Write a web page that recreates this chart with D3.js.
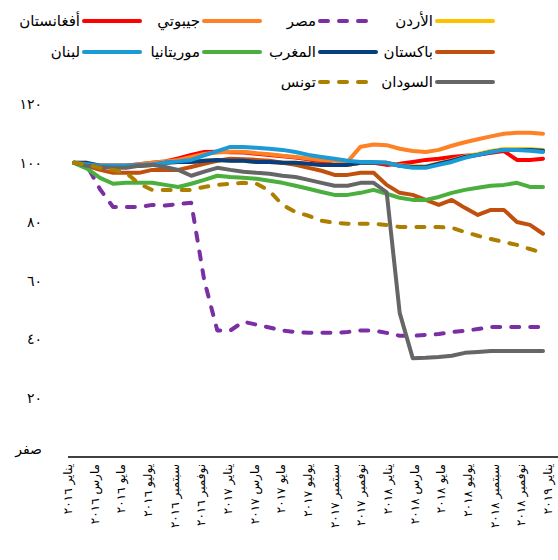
<!DOCTYPE html>
<html><head><meta charset="utf-8">
<script src="https://cdn.jsdelivr.net/npm/d3@7/dist/d3.min.js"></script>
<style>
html,body{margin:0;padding:0;background:#fff;}
svg{display:block;font-family:"DejaVu Sans",sans-serif;}
</style></head>
<body><svg id="chart" width="558" height="560"></svg>
<script>
const xMonths = ["يناير","مارس","مايو","يوليو","سبتمبر","نوفمبر",
 "يناير","مارس","مايو","يوليو","سبتمبر","نوفمبر",
 "يناير","مارس","مايو","يوليو","سبتمبر","نوفمبر","يناير"];
const xYears = ["٢٠١٦","٢٠١٦","٢٠١٦","٢٠١٦","٢٠١٦","٢٠١٦",
 "٢٠١٧","٢٠١٧","٢٠١٧","٢٠١٧","٢٠١٧","٢٠١٧",
 "٢٠١٨","٢٠١٨","٢٠١٨","٢٠١٨","٢٠١٨","٢٠١٨","٢٠١٩"];
const yTicks = [0,20,40,60,80,100,120];
const yTickLabels = ["صفر","٢٠","٤٠","٦٠","٨٠","١٠٠","١٢٠"];

const jordan =      [100,100,99,99,99,99,99.3,100,100.3,100.3,100.7,101,100.7,100.7,100.3,100.3,100,100,99.7,99.3,99.3,99.3,100,100,100,99.2,98.8,98.8,99.9,100.9,102.2,103,104,104.7,104.7,104.7,104.4];
const egypt =       [100,99,91,85,85,85,85.7,85.5,86,86.4,60,43,43,46,45,44,43,42.5,42.2,42.2,42.2,42.5,43,43,42.2,41.2,41.2,41.5,41.8,42.5,42.9,43.5,44.2,44.2,44.2,44.2,44.2];
const djibouti =    [100,99.5,99,99,99,99.5,100,100.5,101,102,103,103.5,103.8,103.8,103.3,102.9,102.4,102,101.5,101,100.7,100.4,105.5,106.2,106,104.8,104,103.7,104.4,105.8,107,108,109,109.9,110.2,110.2,109.9];
const afghanistan = [100,99.5,99,99,99,99.5,100,100.5,101.5,102.7,103.7,103.8,103.6,103.5,103.1,102.7,102.2,101.8,101.2,100.3,99.3,99.3,100,100,99.3,99.7,100.3,101,101.4,102,102.4,102.7,103.4,104,101,101,101.4];
const pakistan =    [100,99,97.6,96.6,96.6,96.6,97.6,97.6,97.6,98.6,99.7,100.7,101.4,101.2,101,100.7,100,99.3,98.3,97.3,95.9,95.9,96.6,96.6,92.5,89.8,89.1,87.4,85.7,87.4,84.7,82.3,84,84,79.9,78.9,75.9];
const morocco =     [100,100,99,99,99,99,99.3,100,100.3,100.3,100.7,101,100.7,100.7,100.3,100.3,100,100,99.7,99.3,99.3,99.3,100,100,100,99,98.6,98.6,99.7,100.7,102,102.7,103.7,104.4,104.4,104.4,104.1];
const mauritania =  [100,98,94.9,92.9,93.2,93.2,93.2,92.5,91.8,92.9,94.2,95.6,95.2,94.9,94.6,93.9,93.2,92.2,91.2,90.1,89.1,89.1,89.8,90.8,89.5,88.1,87.4,87.4,88.4,89.8,90.8,91.5,92.2,92.5,93.2,91.8,91.8];
const lebanon =     [100,99.5,99,99,99,99.3,99.5,100,100.5,101,102.5,104,105.4,105.4,105.1,104.8,104.4,103.7,102.7,102,101.4,100.7,100.3,100.3,100,99,98.3,98.3,99.3,100.3,101.7,102.7,103.7,104.4,104.4,104.1,103.7];
const sudan =       [100,99,98.6,98.3,98.3,99,99.3,98.6,97.6,95.6,97,98.3,97.6,97,96.6,96.3,95.6,95.2,94.2,93.2,92.2,92.2,93.2,93.2,90,49,33.6,33.7,34,34.4,35.4,35.7,36,36,36,36,36];
const tunisia =     [100,99.3,98.3,97.6,96.6,92.9,90.8,90.8,90.8,90.8,91.8,92.5,92.9,93.2,92.9,90.5,85.7,83.3,82,80.3,79.6,79.3,79.3,79.3,78.9,78.2,78.2,78.2,78.2,77.9,76.5,75.2,74.1,73.1,72.1,70.7,69.4];

const seriesNames = ["الأردن","مصر","جيبوتي","أفغانستان","باكستان","المغرب","موريتانيا","لبنان","السودان","تونس"];
const seriesValues = [jordan,egypt,djibouti,afghanistan,pakistan,morocco,mauritania,lebanon,sudan,tunisia];
const seriesColors = ["#FFC000","#7B2FA5","#FF8125","#FF0000","#C0500E","#063E7E","#4BAF3E","#1C9AD6","#666666","#AD7F00"];
const seriesDashed = [false,true,false,false,false,false,false,false,false,true];
const legendRow = [0,0,0,0,1,1,1,1,2,2];
const legendCol = [0,1,2,3,0,1,2,3,0,1];
const drawOrder = [3,0,2,1,4,5,6,7,8,9];

const svg = d3.select("#chart");
const x = d3.scaleLinear().domain([0,36]).range([74,543]);
const y = d3.scaleLinear().domain([0,120]).range([457,104]);
const xLab = d3.scalePoint().domain(d3.range(xMonths.length)).range([68,548]);

// y labels
svg.append("g").selectAll("text").data(yTicks).join("text")
  .attr("x",42).attr("y",d=>y(d)+(d===0?-3:5))
  .attr("text-anchor","end").attr("font-size",14).attr("fill","#000")
  .attr("letter-spacing",d=>d===0?0:2)
  .text((d,i)=>yTickLabels[i]);

// x axis line
svg.append("line").attr("x1",68).attr("x2",558).attr("y1",y(0)).attr("y2",y(0))
  .attr("stroke","#000").attr("stroke-width",1.5);

// x labels
const xl = svg.append("g").selectAll("text").data(xMonths).join("text")
  .attr("transform",(d,i)=>`translate(${xLab(i)},${y(0)+7}) rotate(-90)`)
  .attr("text-anchor","end").attr("dominant-baseline","central")
  .attr("font-size",12).attr("fill","#000");
xl.append("tspan").text(d=>d+" ");
xl.append("tspan").attr("letter-spacing",4).text((d,i)=>xYears[i]);

// lines
const line = d3.line().x((d,i)=>x(i)).y(d=>y(d));
svg.append("g").selectAll("path").data(drawOrder).join("path")
  .attr("d",k=>line(seriesValues[k])).attr("fill","none")
  .attr("stroke",k=>seriesColors[k]).attr("stroke-width",4)
  .attr("stroke-linejoin","round").attr("stroke-linecap","round")
  .attr("stroke-dasharray",k=>seriesDashed[k]?"8,11":null);

// legend
const colX = [435,318,202,82];
const rowY = [21,52,82];
const lg = svg.append("g").selectAll("g").data(seriesNames).join("g")
  .attr("transform",(d,i)=>`translate(${colX[legendCol[i]]},${rowY[legendRow[i]]})`);
lg.append("line").attr("x1",2).attr("x2",(d,i)=>seriesDashed[i]?54:58).attr("y1",0).attr("y2",0)
  .attr("stroke",(d,i)=>seriesColors[i]).attr("stroke-width",4).attr("stroke-linecap","round")
  .attr("stroke-dasharray",(d,i)=>seriesDashed[i]?"8,11":null);
lg.append("text").attr("x",-2).attr("y",5).attr("text-anchor","end")
  .attr("font-size",15).attr("fill","#000").text(d=>d);
</script></body></html>
